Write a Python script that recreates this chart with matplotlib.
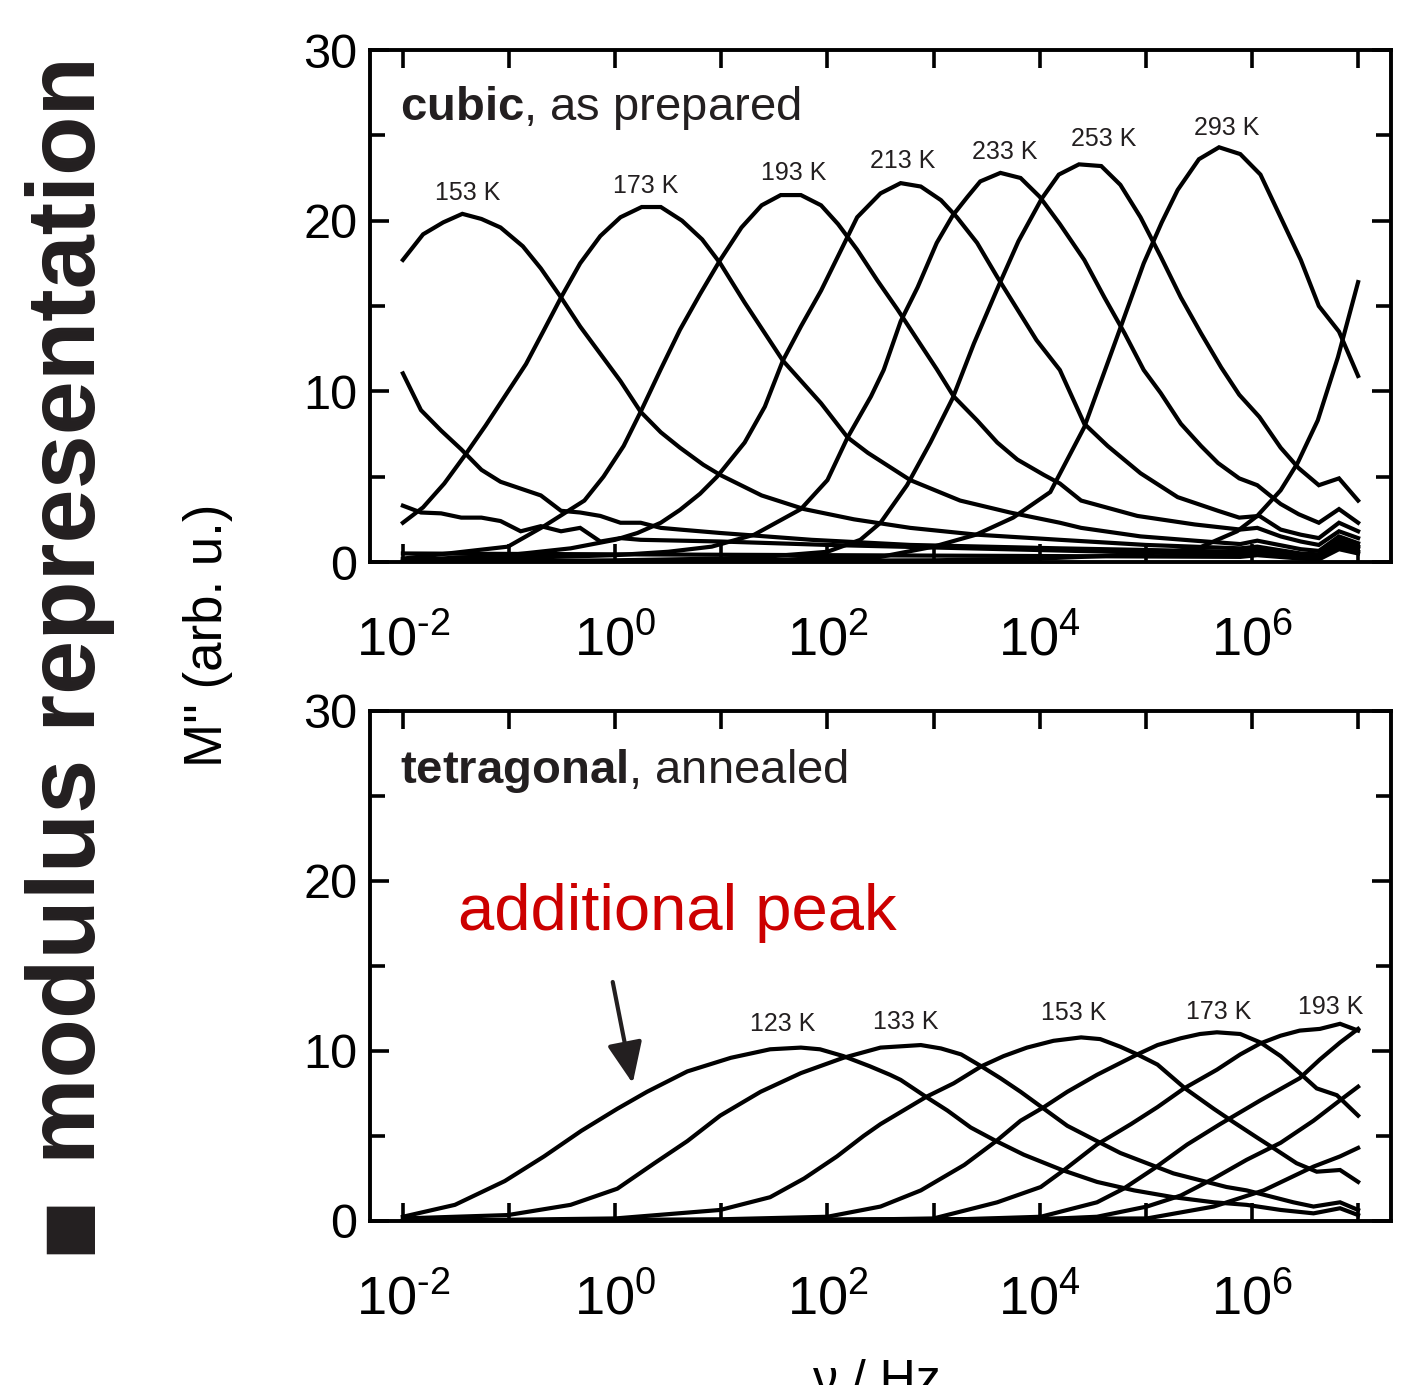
import numpy as np
import matplotlib
matplotlib.use("Agg")
import matplotlib.pyplot as plt
from matplotlib.ticker import FixedLocator, FuncFormatter, NullLocator

plt.rcParams['font.family'] = ['Liberation Sans', 'DejaVu Sans']
plt.rcParams['mathtext.fontset'] = 'custom'
plt.rcParams['mathtext.rm'] = 'Liberation Sans'
plt.rcParams['mathtext.bf'] = 'Liberation Sans:bold'
plt.rcParams['mathtext.default'] = 'regular'

TXT = '#231f20'

# ---- top panel: cubic, as prepared (log10 frequency / M'') ----
c153_lf = [-2.0, -1.81, -1.62, -1.44, -1.26, -1.08, -0.87, -0.70, -0.51, -0.33, -0.14, 0.05, 0.24, 0.43,
           0.61, 0.83, 0.99, 1.38, 1.78, 2.25, 2.78, 3.41, 4.19, 5.0, 5.89, 6.05, 6.46, 6.63, 6.82, 7.0]
c153_m = [17.7, 19.2, 19.9, 20.4, 20.1, 19.6, 18.5, 17.2, 15.5, 13.8, 12.2, 10.6, 8.8, 7.6,
          6.7, 5.7, 5.1, 3.9, 3.1, 2.5, 2.0, 1.6, 1.3, 1.0, 0.8, 0.9, 0.5, 0.45, 1.3, 0.9]

c173_lf = [-2.0, -1.81, -1.61, -1.41, -1.22, -1.03, -0.84, -0.67, -0.51, -0.33, -0.14, 0.05, 0.25, 0.43,
           0.63, 0.82, 0.99, 1.22, 1.58, 1.94, 2.19, 2.38, 2.78, 3.25, 3.72, 4.19, 4.39, 4.95, 5.46,
           5.89, 6.05, 6.46, 6.63, 6.82, 7.0]
c173_m = [2.3, 3.2, 4.6, 6.3, 8.0, 9.8, 11.6, 13.6, 15.5, 17.5, 19.1, 20.2, 20.8, 20.8,
          20.0, 18.9, 17.5, 15.2, 11.8, 9.3, 7.3, 6.4, 4.8, 3.6, 2.9, 2.3, 2.0, 1.5, 1.25,
          1.05, 1.25, 0.75, 0.65, 1.5, 1.1]

c193_lf = [-2.0, -1.01, -0.67, -0.29, -0.11, 0.08, 0.24, 0.43, 0.61, 0.80, 0.99, 1.19, 1.38, 1.56, 1.75,
           1.94, 2.10, 2.28, 2.47, 2.66, 2.85, 3.03, 3.19, 3.41, 3.60, 3.79, 4.04, 4.19, 4.39, 4.92,
           5.46, 5.89, 6.05, 6.27, 6.46, 6.63, 6.82, 7.0]
c193_m = [0.2, 0.9, 2.1, 3.6, 5.0, 6.8, 8.8, 11.3, 13.6, 15.7, 17.7, 19.6, 20.9, 21.5, 21.5,
          20.9, 19.8, 18.3, 16.5, 14.8, 13.0, 11.3, 9.7, 8.3, 7.0, 6.0, 5.1, 4.6, 3.6, 2.7,
          2.2, 1.9, 2.0, 1.5, 1.2, 1.0, 1.8, 1.4]

c213_lf = [-2.0, -1.01, -0.42, 0.0, 0.21, 0.43, 0.61, 0.80, 0.96, 1.22, 1.41, 1.58, 1.75, 1.94, 2.13,
           2.28, 2.50, 2.69, 2.88, 3.07, 3.22, 3.41, 3.60, 3.79, 3.97, 4.19, 4.42, 4.64, 4.95, 5.30,
           5.68, 5.88, 6.07, 6.27, 6.46, 6.63, 6.82, 7.0]
c213_m = [0.1, 0.4, 0.8, 1.3, 1.7, 2.3, 3.05, 4.0, 5.0, 7.0, 9.1, 11.8, 13.8, 15.9, 18.3,
          20.2, 21.6, 22.2, 22.0, 21.2, 20.2, 18.7, 16.7, 14.8, 13.0, 11.25, 8.1, 6.8, 5.2, 3.8,
          3.0, 2.6, 2.7, 1.9, 1.6, 1.4, 2.3, 1.8]

c233_lf = [-2.0, 0.0, 0.5, 0.91, 1.31, 1.75, 2.0, 2.19, 2.41, 2.53, 2.69, 2.85, 3.03, 3.18, 3.32, 3.44,
           3.63, 3.82, 4.0, 4.19, 4.42, 4.61, 4.80, 4.98, 5.14, 5.33, 5.52, 5.68, 5.88, 6.05, 6.27,
           6.44, 6.63, 6.82, 7.0]
c233_m = [0.05, 0.4, 0.6, 0.9, 1.6, 3.1, 4.8, 7.3, 9.7, 11.25, 14.1, 16.1, 18.7, 20.3, 21.4, 22.3,
          22.8, 22.5, 21.4, 19.8, 17.7, 15.5, 13.4, 11.25, 9.9, 8.1, 6.8, 5.8, 4.9, 4.5, 3.4,
          2.8, 2.3, 3.1, 2.3]

c253_lf = [-2.0, 0.0, 1.0, 1.5, 2.0, 2.31, 2.5, 2.75, 2.97, 3.18, 3.38, 3.6, 3.8, 4.02, 4.18, 4.37,
           4.58, 4.76, 4.95, 5.14, 5.33, 5.52, 5.71, 5.88, 6.07, 6.27, 6.44, 6.63, 6.82, 7.0]
c253_m = [0.0, 0.1, 0.2, 0.35, 0.6, 1.3, 2.3, 4.5, 7.0, 9.6, 12.8, 16.0, 18.8, 21.3, 22.7, 23.3,
          23.2, 22.1, 20.2, 17.9, 15.5, 13.4, 11.4, 9.8, 8.5, 6.7, 5.5, 4.5, 4.9, 3.6]

c293_lf = [-2.0, 1.0, 2.5, 3.0, 3.4, 3.75, 4.1, 4.42, 4.73, 4.98, 5.15, 5.30, 5.50, 5.69, 5.89, 6.08,
           6.27, 6.46, 6.63, 6.82, 7.0]
c293_m = [0.0, 0.05, 0.3, 0.9, 1.6, 2.6, 4.1, 7.9, 13.2, 17.5, 19.9, 21.8, 23.6, 24.3, 23.9, 22.7,
          20.2, 17.7, 15.0, 13.5, 10.9]

c313_lf = [-2.0, 3.0, 4.0, 4.8, 5.2, 5.49, 5.86, 6.05, 6.27, 6.43, 6.62, 6.81, 7.0]
c313_m = [0.0, 0.1, 0.2, 0.4, 0.6, 0.8, 1.8, 2.7, 4.2, 5.8, 8.3, 12.0, 16.4]

# low-temperature tails (peak below the window)
cl1_lf = [-2.0, -1.83, -1.64, -1.45, -1.26, -1.08, -0.89, -0.70, -0.51, -0.33, -0.14, 0.05, 0.24,
          0.43, 0.61, 0.99, 1.85, 2.78, 4.19, 5.46, 5.89, 6.05, 6.46, 6.63, 6.82, 7.0]
cl1_m = [11.05, 8.9, 7.7, 6.6, 5.4, 4.7, 4.3, 3.9, 3.0, 2.9, 2.7, 2.3, 2.3,
         2.0, 1.9, 1.7, 1.3, 1.0, 0.8, 0.65, 0.6, 0.75, 0.4, 0.35, 1.1, 0.8]

cl2_lf = [-2.0, -1.83, -1.64, -1.45, -1.26, -1.08, -0.89, -0.70, -0.51, -0.33, -0.14, 0.05, 0.24,
          1.0, 2.0, 3.0, 4.0, 5.0, 5.89, 6.05, 6.46, 6.63, 6.82, 7.0]
cl2_m = [3.3, 2.9, 2.85, 2.6, 2.6, 2.4, 1.8, 2.1, 1.8, 2.0, 1.2, 1.4, 1.3,
         1.2, 1.0, 0.85, 0.7, 0.55, 0.45, 0.6, 0.3, 0.25, 0.9, 0.6]

cl3_lf = [-2.0, 0.0, 2.0, 4.0, 5.89, 6.05, 6.46, 6.63, 6.82, 7.0]
cl3_m = [0.5, 0.45, 0.4, 0.35, 0.3, 0.4, 0.2, 0.15, 0.75, 0.5]

top_curves = [(c153_lf, c153_m), (c173_lf, c173_m), (c193_lf, c193_m), (c213_lf, c213_m),
              (c233_lf, c233_m), (c253_lf, c253_m), (c293_lf, c293_m), (c313_lf, c313_m),
              (cl1_lf, cl1_m), (cl2_lf, cl2_m), (cl3_lf, cl3_m)]

top_lbl = ['153 K', '173 K', '193 K', '213 K', '233 K', '253 K', '293 K']
top_lbl_lf = [-1.39, 0.29, 1.68, 2.71, 3.67, 4.60, 5.76]
top_lbl_m = [21.65, 22.05, 22.8, 23.5, 24.0, 24.8, 25.45]

# ---- bottom panel: tetragonal, annealed ----
t123_lf = [-2.0, -1.51, -1.04, -0.67, -0.32, 0.02, 0.30, 0.68, 1.09, 1.46, 1.75, 1.93, 2.15, 2.40,
           2.59, 2.69, 2.93, 3.13, 3.35, 3.59, 3.85, 4.21, 4.54, 4.89, 5.26, 5.64, 5.95, 6.27,
           6.58, 6.83, 7.0]
t123_m = [0.25, 0.95, 2.35, 3.8, 5.3, 6.6, 7.6, 8.8, 9.6, 10.1, 10.2, 10.1, 9.7, 9.1,
          8.6, 8.3, 7.3, 6.5, 5.5, 4.7, 3.9, 3.0, 2.3, 1.8, 1.4, 1.1, 0.95, 0.65,
          0.45, 0.75, 0.35]

t133_lf = [-2.0, -1.01, -0.42, 0.02, 0.37, 0.68, 0.99, 1.37, 1.75, 2.15, 2.5, 2.88, 3.07, 3.26, 3.45,
           3.63, 3.82, 4.04, 4.26, 4.54, 4.76, 5.01, 5.26, 5.51, 5.76, 5.95, 6.14, 6.39, 6.58,
           6.83, 7.0]
t133_m = [0.15, 0.35, 0.95, 1.9, 3.4, 4.7, 6.2, 7.6, 8.7, 9.6, 10.2, 10.35, 10.15, 9.8, 9.1,
          8.4, 7.6, 6.6, 5.6, 4.7, 4.0, 3.4, 2.8, 2.4, 2.0, 1.8, 1.5, 1.1, 0.85,
          1.1, 0.65]

t153_lf = [-2.0, 0.0, 0.99, 1.46, 1.78, 2.09, 2.34, 2.5, 2.93, 3.19, 3.45, 3.66, 3.88, 4.13, 4.39,
           4.57, 4.76, 4.92, 5.11, 5.37, 5.64, 5.83, 6.05, 6.2, 6.42, 6.61, 6.83, 7.0]
t153_m = [0.0, 0.15, 0.65, 1.4, 2.5, 3.8, 5.0, 5.7, 7.3, 8.1, 9.1, 9.7, 10.2, 10.6, 10.8,
          10.7, 10.25, 9.8, 9.2, 7.8, 6.6, 5.8, 4.9, 4.3, 3.4, 2.9, 3.0, 2.3]

t173_lf = [-2.0, 0.99, 2.0, 2.5, 2.88, 3.29, 3.59, 3.82, 4.04, 4.26, 4.54, 4.92, 5.11, 5.33, 5.51,
           5.67, 5.89, 6.08, 6.27, 6.45, 6.61, 6.8, 7.0]
t173_m = [0.0, 0.1, 0.25, 0.85, 1.8, 3.3, 4.7, 5.9, 6.7, 7.6, 8.6, 9.8, 10.35, 10.75, 11.0,
          11.1, 11.0, 10.5, 9.7, 8.7, 7.8, 7.4, 6.2]

t193_lf = [-2.0, 2.0, 3.0, 3.6, 4.01, 4.23, 4.54, 4.86, 5.11, 5.36, 5.67, 5.89, 6.08, 6.27, 6.45,
           6.64, 6.83, 7.0]
t193_m = [0.0, 0.05, 0.15, 1.1, 2.0, 3.0, 4.5, 5.7, 6.7, 7.8, 8.9, 9.8, 10.45, 10.9, 11.2,
          11.3, 11.6, 11.2]

t213_lf = [-2.0, 3.0, 4.01, 4.54, 4.79, 5.08, 5.39, 5.7, 6.08, 6.45, 6.64, 6.83, 7.0]
t213_m = [0.0, 0.05, 0.25, 1.1, 1.9, 3.1, 4.5, 5.7, 7.1, 8.4, 9.5, 10.5, 11.3]

t233_lf = [-2.0, 4.0, 4.54, 5.01, 5.33, 5.64, 5.95, 6.27, 6.58, 6.83, 7.0]
t233_m = [0.0, 0.1, 0.25, 0.85, 1.5, 2.5, 3.6, 4.6, 5.9, 7.1, 7.9]

t253_lf = [-2.0, 5.01, 5.64, 6.11, 6.58, 6.83, 7.0]
t253_m = [0.0, 0.15, 0.85, 1.8, 3.2, 3.8, 4.3]

bot_curves = [(t123_lf, t123_m), (t133_lf, t133_m), (t153_lf, t153_m), (t173_lf, t173_m),
              (t193_lf, t193_m), (t213_lf, t213_m), (t233_lf, t233_m), (t253_lf, t253_m)]

bot_lbl = ['123 K', '133 K', '153 K', '173 K', '193 K']
bot_lbl_lf = [1.58, 2.74, 4.32, 5.69, 6.74]
bot_lbl_m = [11.6, 11.7, 12.25, 12.3, 12.6]

W, H = 1411, 1385
fig = plt.figure(figsize=(W / 100, H / 100), dpi=100)
fig.patch.set_facecolor('white')

ax1 = fig.add_axes([370 / W, 1 - 562 / H, 1021 / W, 512 / H])
ax2 = fig.add_axes([370 / W, 1 - 1221 / H, 1021 / W, 510 / H])


def decade_label(v, pos):
    e = int(round(np.log10(v)))
    if e % 2:
        return ''
    return r'$10^{\text{%d}}$' % e


def style_axis(ax):
    ax.set_xscale('log')
    ax.set_xlim(10 ** -2.31, 10 ** 7.31)
    ax.set_ylim(0, 30)
    ax.xaxis.set_major_locator(FixedLocator([10.0 ** k for k in range(-2, 8)]))
    ax.xaxis.set_minor_locator(NullLocator())
    ax.xaxis.set_major_formatter(FuncFormatter(decade_label))
    ax.yaxis.set_major_locator(FixedLocator([0, 10, 20, 30]))
    ax.yaxis.set_minor_locator(FixedLocator([5, 15, 25]))
    for s in ax.spines.values():
        s.set_linewidth(2.8)
    ax.tick_params(axis='x', which='major', direction='in', top=True, bottom=True,
                   length=13, width=2.6, labelsize=39, pad=38, colors='black')
    ax.tick_params(axis='y', which='major', direction='in', left=True, right=True,
                   length=14, width=2.6, labelsize=35, pad=9)
    ax.tick_params(axis='y', which='minor', direction='in', left=True, right=True,
                   length=11, width=2.6)


for lf, m in top_curves:
    ax1.plot(np.power(10.0, lf), m, color='black', lw=3.0, solid_joinstyle='miter')
for lf, m in bot_curves:
    ax2.plot(np.power(10.0, lf), m, color='black', lw=3.0, solid_joinstyle='miter')

style_axis(ax1)
style_axis(ax2)

for s, lf, m in zip(top_lbl, top_lbl_lf, top_lbl_m):
    ax1.text(10 ** lf, m, s, fontsize=18, ha='center', va='center', color=TXT)
for s, lf, m in zip(bot_lbl, bot_lbl_lf, bot_lbl_m):
    ax2.text(10 ** lf, m, s, fontsize=18, ha='center', va='center', color=TXT)

ax1.text(0.0294, 0.863, r'$\mathbf{cubic}$, as prepared', transform=ax1.transAxes,
         fontsize=34, color=TXT, va='baseline')
ax2.text(0.0294, 0.859, r'$\mathbf{tetragonal}$, annealed', transform=ax2.transAxes,
         fontsize=34, color=TXT, va='baseline')

ax2.text(0.0863, 0.571, 'additional peak', transform=ax2.transAxes, fontsize=47,
         color='#cc0000', va='baseline')
ax2.annotate('', xy=(10 ** 0.165, 8.1), xytext=(10 ** -0.023, 14.06), xycoords='data',
             arrowprops=dict(arrowstyle='-|>,head_length=1.4,head_width=0.6',
                             mutation_scale=18, lw=3.0, color=TXT,
                             shrinkA=0, shrinkB=0))

fig.text(208 / W, 1 - 635 / H, "M'' (arb. u.)", rotation=90, ha='center', va='center',
         fontsize=38, color='black')
fig.text(877 / W, 1 - 1395 / H, 'ν / Hz', ha='center', va='baseline', fontsize=36,
         color='black')

fig.text(70 / W, 1 - 610 / H, 'modulus representation', rotation=90, ha='center',
         va='center', fontsize=70, fontweight='bold', color=TXT)
fig.text(65 / W, 1 - 1224 / H, '■', rotation=90, ha='center', va='center',
         fontsize=45, color=TXT, family=['DejaVu Sans'])

fig.savefig('out.png', dpi=100, facecolor='white')
